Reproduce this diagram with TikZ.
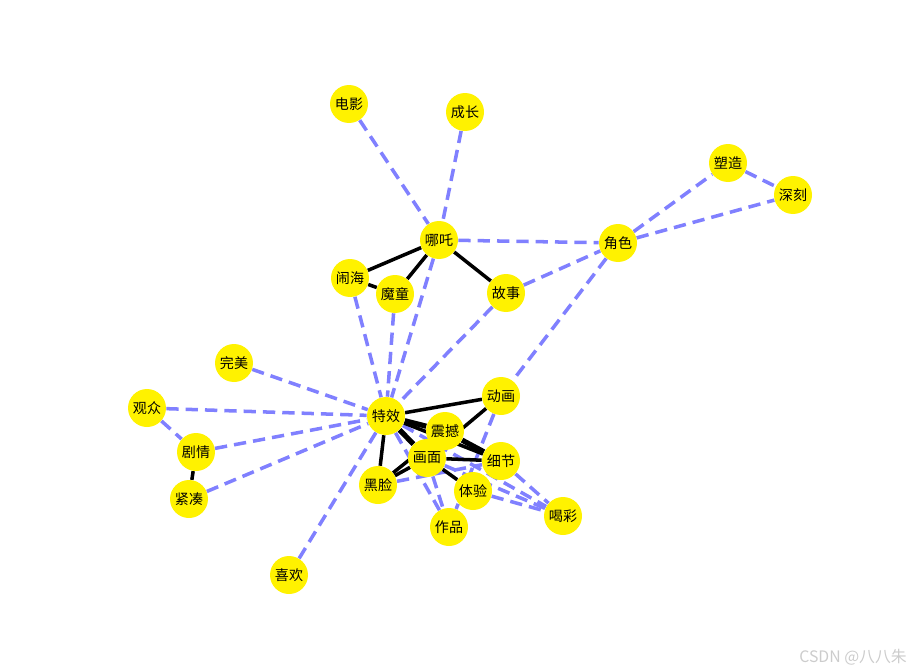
\documentclass[tikz,border=0pt]{standalone}
\usepackage{fontspec}
\newfontfamily\cjk{Noto Sans CJK SC}
\usetikzlibrary{backgrounds}
\tikzset{
  word/.style={circle, fill=yellow, minimum size=7.6mm, inner sep=0pt, font=\cjk\fontsize{8}{9}\selectfont},
  edge/.style={line width=2pt, black},
  heavyedge/.style={line width=3pt, black},
  faintedge/.style={line width=2pt, blue!50, dash pattern=on 7pt off 4pt}
}

\begin{document}
\begin{tikzpicture}[x=0.2mm, y=-0.2mm]
\useasboundingbox (0,0) rectangle (917,672);
\node[word] (dianying) at (349,104) {电影};
\node[word] (chengzhang) at (465,112) {成长};
\node[word] (suzao) at (728,163) {塑造};
\node[word] (shenke) at (793,195) {深刻};
\node[word] (nezha) at (439,240) {哪吒};
\node[word] (juese) at (618,243) {角色};
\node[word] (naohai) at (350,278) {闹海};
\node[word] (motong) at (395,294) {魔童};
\node[word] (gushi) at (506,293) {故事};
\node[word] (wanmei) at (234,363) {完美};
\node[word] (donghua) at (501,396) {动画};
\node[word] (guanzhong) at (147,408) {观众};
\node[word] (texiao) at (386,416) {特效};
\node[word] (zhenhan) at (445,431) {震撼};
\node[word] (juqing) at (196,452) {剧情};
\node[word] (xijie) at (501,461) {细节};
\node[word] (heilian) at (378,485) {黑脸};
\node[word] (tiyan) at (473,491) {体验};
\node[word] (jincou) at (189,499) {紧凑};
\node[word] (hecai) at (563,516) {喝彩};
\node[word] (zuopin) at (449,527) {作品};
\node[word] (xihuan) at (289,575) {喜欢};
\node[word] (huamian) at (427,458) {画面};

\begin{scope}[on background layer]
% dashed links
\draw[faintedge] (dianying) -- (nezha);
\draw[faintedge] (chengzhang) -- (nezha);
\draw[faintedge] (nezha) -- (juese);
\draw[faintedge] (juese) -- (suzao);
\draw[faintedge] (juese) -- (shenke);
\draw[faintedge] (suzao) -- (shenke);
\draw[faintedge] (gushi) -- (juese);
\draw[faintedge] (juese) -- (donghua);
\draw[faintedge] (donghua) -- (zuopin);
\draw[faintedge] (naohai) -- (texiao);
\draw[faintedge] (motong) -- (texiao);
\draw[faintedge] (nezha) -- (texiao);
\draw[faintedge] (gushi) -- (texiao);
\draw[faintedge] (wanmei) -- (texiao);
\draw[faintedge] (guanzhong) -- (texiao);
\draw[faintedge] (juqing) -- (texiao);
\draw[faintedge] (jincou) -- (texiao);
\draw[faintedge] (xihuan) -- (texiao);
\draw[faintedge] (guanzhong) -- (juqing);
\draw[faintedge] (texiao) -- (zuopin);
\draw[faintedge] (texiao) -- (hecai);
\draw[faintedge] (huamian) -- (zuopin);
\draw[faintedge] (huamian) -- (hecai);
\draw[faintedge] (heilian) -- (xijie);
\draw[faintedge] (xijie) -- (hecai);
\draw[faintedge] (tiyan) -- (hecai);
% solid links
\draw[edge] (nezha) -- (naohai);
\draw[edge] (nezha) -- (motong);
\draw[edge] (nezha) -- (gushi);
\draw[edge] (naohai) -- (motong);
\draw[edge] (juqing) -- (jincou);
\draw[edge] (texiao) -- (donghua);
\draw[edge] (texiao) -- (heilian);
\draw[edge] (texiao) -- (xijie);
\draw[heavyedge] (texiao) -- (zhenhan);
\draw[heavyedge] (texiao) -- (huamian);
\draw[heavyedge] (zhenhan) -- (xijie);
\draw[edge] (donghua) -- (huamian);
\draw[edge] (huamian) -- (xijie);
\draw[edge] (huamian) -- (tiyan);
\draw[edge] (heilian) -- (huamian);
\draw[edge] (heilian) -- (zhenhan);
\end{scope}

\node[font=\cjk\fontsize{9}{10}\selectfont, text=gray!40] (csdn) at (853,657) {CSDN @八八朱};
\end{tikzpicture}
\end{document}
